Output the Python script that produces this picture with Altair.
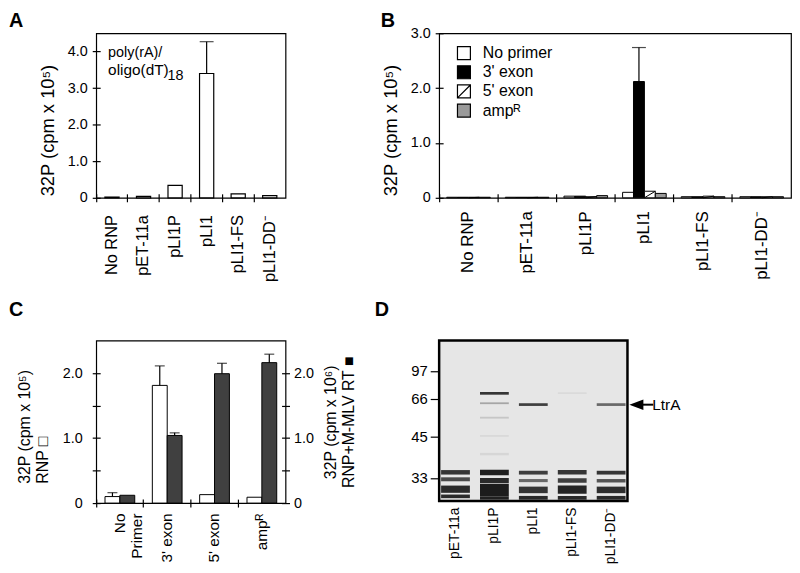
import altair as alt
import pandas as pd

FONT = "Liberation Sans"

# ---------------- data ----------------
# Panel A
a_categories = ["No RNP", "pET-11a", "pLI1P", "pLI1", "pLI1-FS", "pLI1-DD⁻"]
a_values = [0.02, 0.04, 0.34, 3.40, 0.11, 0.06]
a_error_category = ["pLI1"]
a_error_top = [4.27]
a_note = ["poly(rA)/", "oligo(dT)", "18"]

# Panel B
b_series = ["No primer", "3' exon", "5' exon", "ampᴿ"]
b_no_primer = [0.01, 0.01, 0.03, 0.10, 0.02, 0.02]
b_three_exon = [0.01, 0.01, 0.03, 2.12, 0.02, 0.02]
b_five_exon = [0.01, 0.01, 0.02, 0.12, 0.03, 0.02]
b_ampr = [0.01, 0.01, 0.04, 0.08, 0.02, 0.02]
b_error_category = ["pLI1"]
b_error_series = ["3' exon"]
b_error_top = [2.74]

# Panel C
c_categories = ["No Primer", "3' exon", "5' exon", "ampᴿ"]
c_series = ["RNP", "RNP+M-MLV RT"]
c_rnp = [0.10, 1.81, 0.13, 0.09]
c_rnp_err = [0.16, 2.11, None, None]
c_mmlv = [0.12, 1.04, 1.99, 2.16]
c_mmlv_err = [None, 1.08, 2.15, 2.29]

# Panel D (gel, kDa)
d_lanes = ["pET-11a", "pLI1P", "pLI1", "pLI1-FS", "pLI1-DD⁻"]
d_markers = [97, 66, 45, 33]
d_band_lane = (["pET-11a"] * 4 + ["pLI1P"] * 9 + ["pLI1"] * 5 + ["pLI1-FS"] * 5 + ["pLI1-DD⁻"] * 5)
d_band_hi = [35.3, 33.2, 30.8, 28.2,
             35.4, 33.0, 31.3, 27.6, 73.5, 64.0, 56.0, 45.8, 40.3,
             35.1, 32.7, 30.5, 27.8, 63.5,
             35.3, 32.9, 30.8, 27.8, 72.8,
             35.1, 32.7, 30.5, 27.8, 63.5]
d_band_lo = [34.0, 32.05, 28.7, 27.15,
             33.8, 31.5, 27.6, 26.7, 70.5, 63.0, 55.0, 45.0, 39.6,
             34.0, 31.8, 28.6, 26.7, 62.0,
             34.0, 31.6, 28.4, 26.7, 71.5,
             34.0, 31.7, 28.6, 26.7, 62.0]
d_band_intensity = [0.85, 0.75, 0.9, 0.9,
                    0.95, 0.9, 0.97, 0.95, 0.85, 0.3, 0.15, 0.08, 0.08,
                    0.8, 0.6, 0.85, 0.9, 0.8,
                    0.85, 0.8, 0.92, 0.9, 0.07,
                    0.85, 0.7, 0.88, 0.9, 0.6]
d_arrow_label = ["LtrA"]
d_arrow_kda = [62.7]

# ---------------- helpers ----------------
def letter(ch, dx, dy):
    return alt.Chart(pd.DataFrame({"t": [ch]})).mark_text(
        font=FONT, fontSize=20, fontWeight="bold", align="left", baseline="top"
    ).encode(text="t:N", x=alt.value(dx), y=alt.value(dy))


def note(txt, dx, dy, size=14.5):
    return alt.Chart(pd.DataFrame({"t": [txt]})).mark_text(
        font=FONT, fontSize=size, align="left", baseline="alphabetic"
    ).encode(text="t:N", x=alt.value(dx), y=alt.value(dy))


def band_x(cats, pad, size=15.5):
    return alt.X("cat:N", sort=cats,
                 scale=alt.Scale(domain=cats, paddingInner=0, paddingOuter=0),
                 axis=alt.Axis(title=None, labelAngle=270, bandPosition=0, offset=-4,
                               tickSize=8, domain=False, labelPadding=pad,
                               labelFontSize=size, labelOverlap=False, labelLimit=300))


half_label = "datum.value % 1 != 0 ? '' : (datum.value == 0 ? '0' : format(datum.value, '.1f'))"

# ---------------- Panel A ----------------
a_df = pd.DataFrame({"cat": a_categories, "val": a_values})
a_err = pd.DataFrame({"cat": a_error_category, "top": a_error_top,
                      "val": [a_values[a_categories.index(c)] for c in a_error_category]})
a_y_scale = alt.Scale(domain=[0, 4.5], nice=False, zero=False)
a_bars = alt.Chart(a_df).mark_bar(width=alt.RelativeBandSize(0.45), fill="white",
                                  stroke="black", strokeWidth=1.2).encode(
    x=band_x(a_categories, 13, 16.5),
    y=alt.Y("val:Q", scale=a_y_scale,
            axis=alt.Axis(title=["32P (cpm x 10⁵)"], values=[0, 1, 2, 3, 4], labelExpr=half_label,
                          offset=-4, tickSize=8, domain=False, labelPadding=5,
                          titlePadding=10, titleAngle=270, titleAlign="left", titleY=164,
                          titleFontSize=18.5, titleLimit=400)),
)
a_rule = alt.Chart(a_err).mark_rule(color="black", strokeWidth=1.2).encode(
    x=band_x(a_categories, 13, 16.5), y=alt.Y("val:Q", scale=a_y_scale), y2="top:Q")
a_cap = alt.Chart(a_err).mark_tick(color="black", size=14, thickness=1.2).encode(
    x=band_x(a_categories, 13, 16.5), y=alt.Y("top:Q", scale=a_y_scale))
panel_a = alt.layer(
    a_bars, a_rule, a_cap,
    note(a_note[0], 12, 24, 14.5), note(a_note[1], 12, 42, 15.5), note(a_note[2], 72, 47, 14.5),
    letter("A", -88, -22),
).properties(width=191, height=166)

# ---------------- Panel B ----------------
b_df = pd.DataFrame({"cat": a_categories, "s0": b_no_primer, "s1": b_three_exon,
                     "s2": b_five_exon, "s3": b_ampr})
b_cols = ["s0", "s1", "s2", "s3"]
b_colors = ["white", "black", "white", "#9a9a9a"]
b_width = 11
b_shift = [-1.5 * b_width, -0.5 * b_width, 0.5 * b_width, 1.5 * b_width]
b_y_scale = alt.Scale(domain=[0, 3], nice=False, zero=False)
b_axis = alt.Axis(title=["32P (cpm x 10⁵)"], values=[0, 0.5, 1, 1.5, 2, 2.5, 3],
                  labelExpr=half_label, offset=-4, tickSize=8, domain=False,
                  labelPadding=5, titlePadding=10, titleAngle=270, titleAlign="left",
                  titleY=164, titleFontSize=18.5, titleLimit=400)
BX = 17
b_layers = []
for i, (col, colr, dx) in enumerate(zip(b_cols, b_colors, b_shift)):
    y_enc = (alt.Y(f"{col}:Q", scale=b_y_scale, axis=b_axis) if i == 0
             else alt.Y(f"{col}:Q", scale=b_y_scale))
    b_layers.append(
        alt.Chart(b_df).mark_bar(width=b_width, xOffset=dx, fill=colr, stroke="black",
                                 strokeWidth=1).encode(x=band_x(a_categories, 9, BX), y=y_enc))
# diagonal hatch of the 5' exon bars
b_layers.append(
    alt.Chart(b_df).mark_rule(color="black", strokeWidth=1, xOffset=b_shift[2] - b_width / 2,
                              x2Offset=b_shift[2] + b_width / 2).encode(
        x=band_x(a_categories, 9, BX), x2="cat:N",
        y=alt.Y("zero:Q", scale=b_y_scale), y2="s2:Q").transform_calculate(zero="0"))
b_err = pd.DataFrame({"cat": b_error_category, "series": b_error_series, "top": b_error_top})
b_err["val"] = [b_df[b_df.cat == c][b_cols[b_series.index(s)]].iloc[0]
                for c, s in zip(b_error_category, b_error_series)]
b_err["dx"] = [b_shift[b_series.index(s)] for s in b_error_series]
for dx in sorted(set(b_err["dx"])):
    sub = b_err[b_err.dx == dx]
    b_layers.append(alt.Chart(sub).mark_rule(color="black", strokeWidth=1.2, xOffset=dx).encode(
        x=band_x(a_categories, 9, BX), y=alt.Y("val:Q", scale=b_y_scale), y2="top:Q"))
    b_layers.append(alt.Chart(sub).mark_tick(color="black", size=14, thickness=1.2,
                                             xOffset=dx).encode(
        x=band_x(a_categories, 9, BX), y=alt.Y("top:Q", scale=b_y_scale)))
b_main = alt.layer(*b_layers)

leg_df = pd.DataFrame({"series": b_series})
b_fill = alt.Scale(domain=b_series, range=b_colors)
leg_y = alt.Y("series:N", sort=b_series,
              scale=alt.Scale(domain=b_series, range=[20, 78], padding=0), axis=None)
hatched = "M-1,-1H1V1H-1ZM-1,1L1,-1"
leg_pts = alt.Chart(leg_df).mark_point(filled=True, size=170, stroke="black",
                                       strokeWidth=1.2, opacity=1).encode(
    x=alt.value(25), y=leg_y,
    fill=alt.Fill("series:N", scale=b_fill, legend=None),
    shape=alt.Shape("series:N", scale=alt.Scale(domain=b_series,
                                                range=["square", "square", hatched, "square"]),
                    legend=None),
)
leg_txt = alt.Chart(leg_df).mark_text(font=FONT, fontSize=16, align="left",
                                      baseline="middle").encode(
    x=alt.value(44), y=leg_y, text="series:N")
b_legend = alt.layer(leg_pts, leg_txt)
panel_b = alt.layer(b_main, b_legend, letter("B", -59, -22)).resolve_scale(
    y="independent").properties(width=355, height=166)

# ---------------- Panel C ----------------
c_df = pd.DataFrame({"cat": c_categories, "rnp": c_rnp, "mmlv": c_mmlv,
                     "rnp_err": c_rnp_err, "mmlv_err": c_mmlv_err})
c_width = 15
c_y_scale = alt.Scale(domain=[0, 2.5], nice=False, zero=False)
c_x = alt.X("cat:N", sort=c_categories,
            scale=alt.Scale(domain=c_categories, paddingInner=0, paddingOuter=0),
            axis=alt.Axis(title=None, labelAngle=270, bandPosition=0, offset=-4, tickSize=8,
                          domain=False, labelPadding=6, labelFontSize=15.5, labelOverlap=False,
                          labelExpr="datum.value == 'No Primer' ? ['No', 'Primer'] : datum.label"))
c_left_axis = alt.Axis(title=["32P (cpm x 10⁵)", "RNP □"],
                       values=[0, 0.5, 1, 1.5, 2], labelExpr=half_label, offset=-4,
                       tickSize=8, domain=False, labelPadding=10, titlePadding=12,
                       titleAngle=270, titleAlign="left", titleY=144, titleFontSize=16,
                       titleLimit=400)
c_right_axis = alt.Axis(orient="right", title=["32P (cpm x 10⁶)", "RNP+M-MLV RT ■"],
                        values=[0, 0.5, 1, 1.5, 2], labelExpr=half_label, offset=-4,
                        tickSize=8, domain=False, labelPadding=4, titlePadding=7,
                        titleAngle=270, titleFontSize=16, titleLimit=400)
c_base = alt.Chart(c_df)
c_white = c_base.mark_bar(width=c_width, xOffset=-c_width / 2, fill="white", stroke="black",
                          strokeWidth=1).encode(
    x=c_x, y=alt.Y("rnp:Q", scale=c_y_scale, axis=c_left_axis))
c_dark = c_base.mark_bar(width=c_width, xOffset=c_width / 2, fill="#404040", stroke="black",
                         strokeWidth=1).encode(
    x=c_x, y=alt.Y("mmlv:Q", scale=c_y_scale))
c_white_rule = c_base.mark_rule(color="black", strokeWidth=1.2, xOffset=-c_width / 2).encode(
    x=c_x, y=alt.Y("rnp:Q", scale=c_y_scale), y2="rnp_err:Q").transform_filter(
    "isValid(datum.rnp_err)")
c_white_cap = c_base.mark_tick(color="black", size=10, thickness=1.2, xOffset=-c_width / 2).encode(
    x=c_x, y=alt.Y("rnp_err:Q", scale=c_y_scale)).transform_filter("isValid(datum.rnp_err)")
c_dark_cap = c_base.mark_tick(color="black", size=10, thickness=1.2, xOffset=c_width / 2).encode(
    x=c_x, y=alt.Y("mmlv_err:Q", scale=c_y_scale)).transform_filter("isValid(datum.mmlv_err)")
c_dark_rule = c_base.mark_rule(color="black", strokeWidth=1.2, xOffset=c_width / 2).encode(
    x=c_x, y=alt.Y("mmlv:Q", scale=c_y_scale, axis=c_right_axis), y2="mmlv_err:Q"
).transform_filter("isValid(datum.mmlv_err)")
c_left = alt.layer(c_white, c_dark, c_white_rule, c_white_cap, c_dark_cap)
panel_c = alt.layer(c_left, c_dark_rule, letter("C", -88, -41)).resolve_scale(
    y="independent").properties(width=191, height=164)

# ---------------- Panel D ----------------
d_df = pd.DataFrame({"lane": d_band_lane, "hi": d_band_hi, "lo": d_band_lo,
                     "intensity": d_band_intensity})
d_y_scale = alt.Scale(domain=[131, 97, 66, 45, 33, 26.3],
                      range=[0, 30.7, 58.7, 97, 138.7, 162], nice=False, zero=False)
d_bands = alt.Chart(d_df).mark_rect(color="#151515").encode(
    x=alt.X("lane:N", sort=d_lanes,
            scale=alt.Scale(domain=d_lanes, paddingInner=0.26, paddingOuter=0.05),
            axis=alt.Axis(title=None, labelAngle=270, ticks=False, tickSize=0, domain=False,
                          labelPadding=6, labelFontSize=14, labelOverlap=False)),
    y=alt.Y("hi:Q", scale=d_y_scale,
            axis=alt.Axis(title=None, values=d_markers, tickSize=9, domain=False,
                          labelPadding=3, labelFontSize=15)),
    y2="lo:Q",
    opacity=alt.Opacity("intensity:Q", scale=alt.Scale(domain=[0, 1], range=[0, 1]), legend=None),
)
arrow_df = pd.DataFrame({"label": d_arrow_label, "kda": d_arrow_kda})
d_head = alt.Chart(arrow_df).mark_point(shape="M-1,0L1,-0.75L1,0.75Z", size=200, filled=True,
                                        color="black", opacity=1).encode(
    x=alt.value(199), y=alt.Y("kda:Q", scale=d_y_scale))
d_shaft = alt.Chart(arrow_df).mark_rule(color="black", strokeWidth=2).encode(
    x=alt.value(205), x2=alt.value(216), y=alt.Y("kda:Q", scale=d_y_scale))
d_text = alt.Chart(arrow_df).mark_text(font=FONT, fontSize=15.5, align="left",
                                       baseline="middle").encode(
    x=alt.value(215), y=alt.Y("kda:Q", scale=d_y_scale), text="label:N")
panel_d = alt.layer(d_bands, d_head, d_shaft, d_text, letter("D", -65, -41)).properties(
    width=190, height=162,
    view=alt.ViewBackground(fill="#e6e6e6", stroke="black", strokeWidth=2.5))

# ---------------- assemble ----------------
chart = alt.concat(
    panel_a, panel_b, panel_c, panel_d, columns=2,
    spacing={"row": 144, "column": 155}, bounds="flush",
).properties(
    padding={"left": 0, "top": 0, "right": 0, "bottom": 0},
).configure_view(stroke="black", strokeWidth=1.2).configure_axis(
    labelFont=FONT, titleFont=FONT, labelFontSize=14.5, titleFontSize=16,
    labelColor="black", titleColor="black", tickColor="black", domainColor="black",
    titleFontWeight="normal", grid=False, tickWidth=1.2,
).configure_text(font=FONT)

chart.save("out.html", embed_options={"renderer": "svg", "actions": False})
